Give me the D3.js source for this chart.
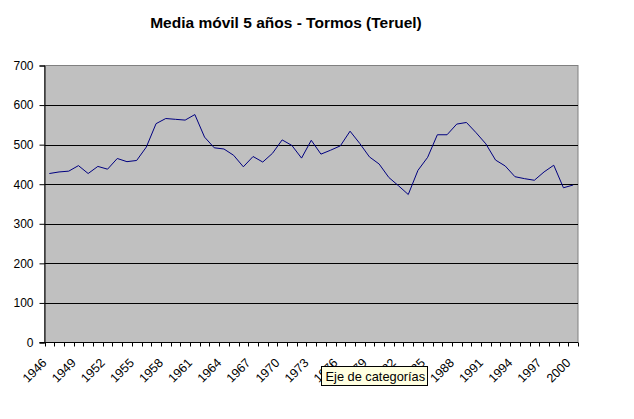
<!DOCTYPE html>
<html>
<head>
<meta charset="utf-8">
<script src="https://cdn.jsdelivr.net/npm/d3@7"></script>
<style>
  body { margin: 0; background: #fff; }
  svg { display: block; font-family: "Liberation Sans", Arial, sans-serif; }
</style>
</head>
<body>
<svg id="chart"></svg>
<script>
// years on the category axis
const years = d3.range(1946, 2001).map(String);

// 5-year moving average
const values = [
  427, 431, 433, 447, 427, 445, 438, 465, 457, 460,
  494, 553, 566, 564, 562, 576, 519, 492, 489, 473,
  444, 470, 456, 478, 512, 498, 466, 511, 476, 486,
  497, 534, 503, 469, 451, 417, 396, 374, 435, 468,
  525, 525, 552, 556, 530, 502, 461, 446, 419, 414,
  410, 431, 448, 391, 398
];

const yTicks = [0, 100, 200, 300, 400, 500, 600, 700];
const labelYears = years.filter((d, i) => i % 3 === 0);

const title = "Media móvil 5 años - Tormos (Teruel)";
const tooltipText = "Eje de categorías";

const width = 634, height = 419;
const plot = { left: 44.5, right: 578, top: 65.5, bottom: 342.5 };

const svg = d3.select("#chart")
  .attr("width", width)
  .attr("height", height);

const x = d3.scaleBand()
  .domain(years)
  .range([plot.left, plot.right])
  .padding(0);

const y = d3.scaleLinear()
  .domain([0, 700])
  .range([plot.bottom, plot.top]);

// plot background
svg.append("rect")
  .attr("x", plot.left)
  .attr("y", plot.top)
  .attr("width", plot.right - plot.left)
  .attr("height", plot.bottom - plot.top)
  .attr("fill", "#c0c0c0")
  .attr("stroke", "#808080")
  .attr("stroke-width", 1);

// gridlines
svg.append("g")
  .selectAll("line")
  .data(yTicks.filter(d => d > 0 && d < 700))
  .enter().append("line")
  .attr("x1", plot.left)
  .attr("x2", plot.right)
  .attr("y1", d => Math.round(y(d)) + 0.5)
  .attr("y2", d => Math.round(y(d)) + 0.5)
  .attr("stroke", "#000")
  .attr("stroke-width", 1);

// y axis
const yAxis = svg.append("g")
  .attr("transform", `translate(${plot.left},0)`)
  .call(d3.axisLeft(y).tickValues(yTicks).tickSize(5).tickPadding(6));
yAxis.select(".domain").attr("stroke", "#000");
yAxis.selectAll(".tick line").attr("stroke", "#000");
yAxis.selectAll(".tick text")
  .attr("font-size", "12px")
  .attr("font-family", "Liberation Sans, Arial, sans-serif")
  .attr("fill", "#000");

// x axis line + ticks between categories
const xg = svg.append("g");
xg.append("line")
  .attr("x1", plot.left - 5)
  .attr("x2", plot.right)
  .attr("y1", plot.bottom)
  .attr("y2", plot.bottom)
  .attr("stroke", "#000");
xg.selectAll(".xt")
  .data(years.concat(["end"]))
  .enter().append("line")
  .attr("class", "xt")
  .attr("x1", (d, i) => Math.round(plot.left + i * x.bandwidth()) + 0.5)
  .attr("x2", (d, i) => Math.round(plot.left + i * x.bandwidth()) + 0.5)
  .attr("y1", plot.bottom)
  .attr("y2", plot.bottom + 4)
  .attr("stroke", "#000");

// x labels, rotated
xg.selectAll(".xl")
  .data(labelYears)
  .enter().append("text")
  .attr("class", "xl")
  .attr("transform", d => `translate(${x(d) + x.bandwidth() / 2 - 8},${plot.bottom + 15}) rotate(-45)`)
  .attr("text-anchor", "end")
  .attr("dy", "0.7em")
  .attr("font-size", "12.5px")
  .attr("fill", "#000")
  .text(d => d);

// the series
const line = d3.line()
  .x((d, i) => x(years[i]) + x.bandwidth() / 2)
  .y(d => y(d));

svg.append("path")
  .datum(values)
  .attr("d", line)
  .attr("fill", "none")
  .attr("stroke", "#000080")
  .attr("stroke-width", 1);

// title
svg.append("text")
  .attr("x", 286)
  .attr("y", 28)
  .attr("text-anchor", "middle")
  .attr("font-size", "15.5px")
  .attr("font-weight", "bold")
  .attr("fill", "#000")
  .text(title);

// tooltip box over the axis
const tip = svg.append("g").attr("transform", "translate(321.5,366.5)");
tip.append("rect")
  .attr("width", 106)
  .attr("height", 19)
  .attr("fill", "#ffffe1")
  .attr("stroke", "#000");
tip.append("text")
  .attr("x", 4)
  .attr("y", 14)
  .attr("font-size", "12.8px")
  .attr("fill", "#000")
  .text(tooltipText);
</script>
</body>
</html>
